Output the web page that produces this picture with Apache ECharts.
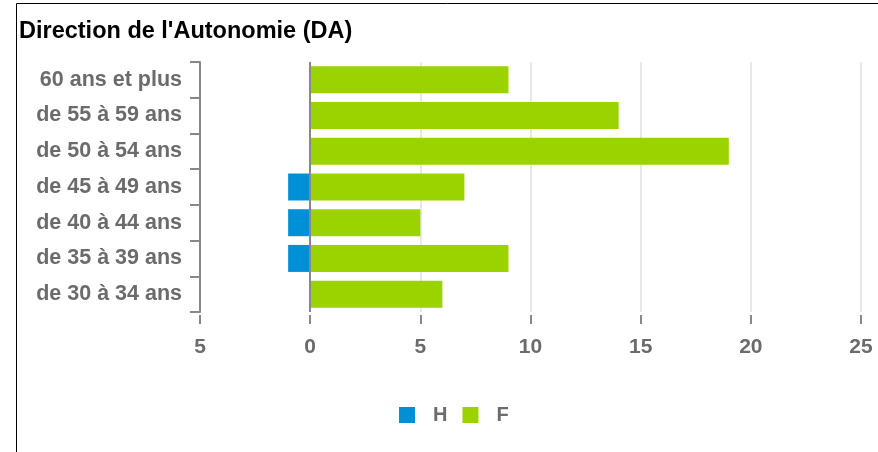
<!DOCTYPE html>
<html>
<head>
<meta charset="utf-8">
<script src="https://cdn.jsdelivr.net/npm/echarts@6/dist/echarts.min.js"></script>
<style>
  html, body { margin: 0; padding: 0; background: #fff; }
  #chart { width: 878px; height: 452px; }
</style>
</head>
<body>
<div id="chart"></div>
<script>
// tranches d'âge, du haut vers le bas
var categories = ['60 ans et plus', 'de 55 à 59 ans', 'de 50 à 54 ans', 'de 45 à 49 ans', 'de 40 à 44 ans', 'de 35 à 39 ans', 'de 30 à 34 ans']
// hommes à gauche (négatif), femmes à droite
var hommes = [0, 0, 0, -1, -1, -1, 0]
var femmes = [9, 14, 19, 7, 5, 9, 6]
var xTicks = { min: -5, max: 25, interval: 5 }

var gray = '#6b6b6b'
var chart = echarts.init(document.getElementById('chart'))
chart.setOption({
  animation: false,
  color: ['#0090d8', '#9bd300'],
  title: {
    text: "Direction de l'Autonomie (DA)",
    left: 14,
    top: 15,
    textStyle: { fontFamily: 'Liberation Sans', fontSize: 23.5, fontWeight: 'bold', color: '#000' }
  },
  graphic: [{
    type: 'rect',
    silent: true,
    shape: { x: 16.5, y: 3.5, width: 1000, height: 1000 },
    style: { fill: 'none', stroke: '#000', lineWidth: 1 }
  }],
  legend: {
    left: 394,
    top: 400,
    itemWidth: 16,
    itemHeight: 16,
    itemGap: 15,
    icon: 'rect',
    textStyle: { fontFamily: 'Liberation Sans', fontSize: 20, fontWeight: 'bold', color: gray, padding: [0, 0, 0, 13] },
    data: ['H', 'F']
  },
  grid: { left: 200, right: 17, top: 62, bottom: 140, containLabel: false },
  xAxis: {
    type: 'value',
    min: xTicks.min,
    max: xTicks.max,
    interval: xTicks.interval,
    offset: 3,
    axisLine: { show: false },
    axisTick: { show: true, length: 9, lineStyle: { color: '#888', width: 2 } },
    axisLabel: {
      margin: 22,
      fontFamily: 'Liberation Sans', fontSize: 21, fontWeight: 'bold', color: gray,
      formatter: function (v) { return Math.abs(v) }
    },
    splitLine: { show: true, lineStyle: { color: '#e8e8e8', width: 2 } }
  },
  yAxis: {
    type: 'category',
    inverse: true,
    data: categories,
    axisLine: { show: true, onZero: false, lineStyle: { color: '#888', width: 2 } },
    axisTick: { show: true, length: 10, lineStyle: { color: '#888', width: 2 } },
    axisLabel: { margin: 18, fontFamily: 'Liberation Sans', fontSize: 21.5, fontWeight: 'bold', color: gray }
  },
  series: [{
    name: 'H',
    type: 'bar',
    stack: 'total',
    barWidth: 27,
    data: hommes
  }, {
    name: 'F',
    type: 'bar',
    stack: 'total',
    barWidth: 27,
    data: femmes,
    markLine: {
      silent: true,
      symbol: 'none',
      label: { show: false },
      lineStyle: { color: '#888', width: 2, type: 'solid' },
      data: [{ xAxis: 0 }]
    }
  }]
})
</script>
</body>
</html>
